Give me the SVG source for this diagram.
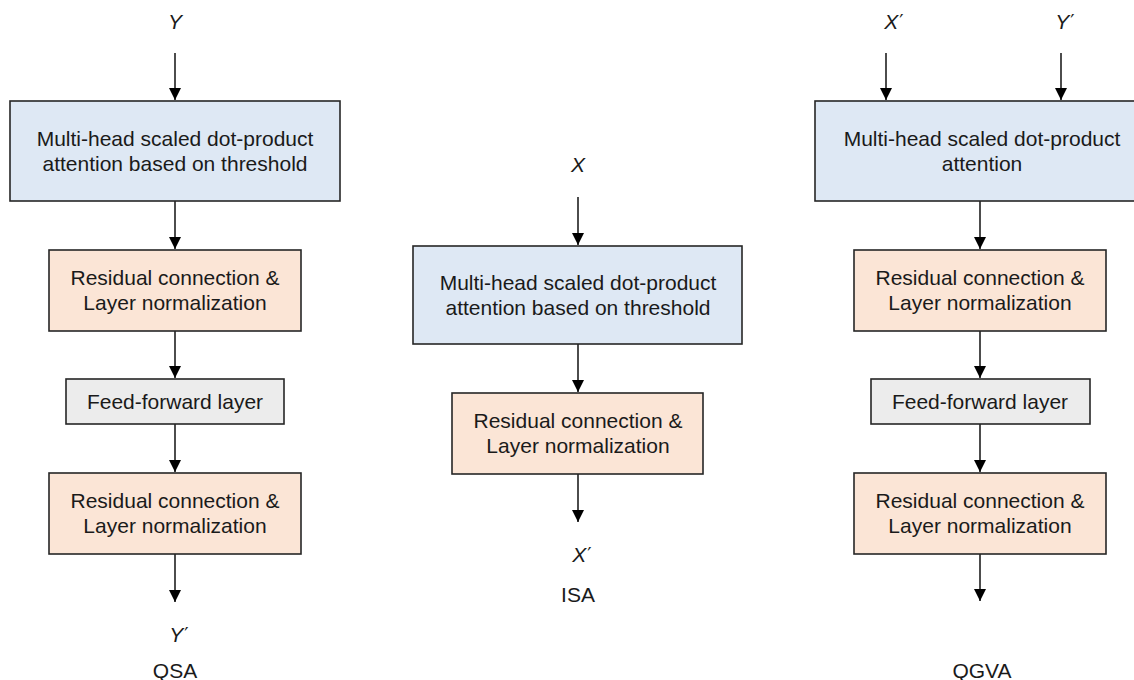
<svg xmlns="http://www.w3.org/2000/svg" width="1134" height="680" viewBox="0 0 1134 680">
<defs>
<style>
.box{stroke:#262626;stroke-width:1.6}
.blue{fill:#dee8f4}
.orange{fill:#fbe5d6}
.gray{fill:#ececec}
text{font-family:"Liberation Sans",Arial,sans-serif;font-size:21px;fill:#1a1a1a;text-anchor:middle}
.var{font-style:italic}
.pr{font-family:"DejaVu Sans",sans-serif;font-size:19px;font-style:normal}
.conn line{stroke:#000;stroke-width:1.4;marker-end:url(#arr)}
</style>
<marker id="arr" markerUnits="userSpaceOnUse" markerWidth="12" markerHeight="12" refX="12" refY="6" orient="auto">
<path d="M0,0 L12,6 L0,12 Z" fill="#000"/>
</marker>
</defs>
<rect width="1134" height="680" fill="#fff"/>

<g id="connectors" class="conn">
<line x1="175" y1="53" x2="175" y2="100"/>
<line x1="175" y1="201" x2="175" y2="249"/>
<line x1="175" y1="331" x2="175" y2="378"/>
<line x1="175" y1="424" x2="175" y2="472"/>
<line x1="175" y1="554" x2="175" y2="602"/>
<line x1="578" y1="197" x2="578" y2="245"/>
<line x1="578" y1="344" x2="578" y2="392"/>
<line x1="578" y1="474" x2="578" y2="522"/>
<line x1="886" y1="53" x2="886" y2="100"/>
<line x1="1061" y1="53" x2="1061" y2="100"/>
<line x1="980" y1="201" x2="980" y2="249"/>
<line x1="980" y1="331" x2="980" y2="378"/>
<line x1="980" y1="424" x2="980" y2="472"/>
<line x1="980" y1="554" x2="980" y2="601"/>
</g>

<g id="labels">
<text class="var" x="175" y="29">Y</text>
<text class="var" x="179" y="642">Y<tspan class="pr" dx="1" dy="-1">′</tspan></text>
<text x="175" y="678">QSA</text>
<text class="var" x="578" y="172">X</text>
<text class="var" x="582" y="562">X<tspan class="pr" dx="1" dy="-1">′</tspan></text>
<text x="578" y="602">ISA</text>
<text class="var" x="894" y="29">X<tspan class="pr" dx="1" dy="-1">′</tspan></text>
<text class="var" x="1065" y="29">Y<tspan class="pr" dx="1" dy="-1">′</tspan></text>
<text x="982" y="678">QGVA</text>
</g>

<g id="qsa-attn">
<rect class="box blue" x="10" y="101" width="330" height="100"/>
<text x="175" y="146">Multi-head scaled dot-product</text>
<text x="175" y="171">attention based on threshold</text>
</g>
<g id="qsa-norm1">
<rect class="box orange" x="49" y="250" width="252" height="81"/>
<text x="175" y="285">Residual connection &amp;</text>
<text x="175" y="310">Layer normalization</text>
</g>
<g id="qsa-ff">
<rect class="box gray" x="66" y="379" width="218" height="45"/>
<text x="175" y="409">Feed-forward layer</text>
</g>
<g id="qsa-norm2">
<rect class="box orange" x="49" y="473" width="252" height="81"/>
<text x="175" y="508">Residual connection &amp;</text>
<text x="175" y="533">Layer normalization</text>
</g>

<g id="isa-attn">
<rect class="box blue" x="413" y="246" width="329" height="98"/>
<text x="578" y="290">Multi-head scaled dot-product</text>
<text x="578" y="315">attention based on threshold</text>
</g>
<g id="isa-norm">
<rect class="box orange" x="452" y="393" width="251" height="81"/>
<text x="578" y="428">Residual connection &amp;</text>
<text x="578" y="453">Layer normalization</text>
</g>

<g id="qgva-attn">
<rect class="box blue" x="815" y="101" width="334" height="100"/>
<text x="982" y="146">Multi-head scaled dot-product</text>
<text x="982" y="171">attention</text>
</g>
<g id="qgva-norm1">
<rect class="box orange" x="854" y="250" width="252" height="81"/>
<text x="980" y="285">Residual connection &amp;</text>
<text x="980" y="310">Layer normalization</text>
</g>
<g id="qgva-ff">
<rect class="box gray" x="871" y="379" width="219" height="45"/>
<text x="980" y="409">Feed-forward layer</text>
</g>
<g id="qgva-norm2">
<rect class="box orange" x="854" y="473" width="252" height="81"/>
<text x="980" y="508">Residual connection &amp;</text>
<text x="980" y="533">Layer normalization</text>
</g>
</svg>
